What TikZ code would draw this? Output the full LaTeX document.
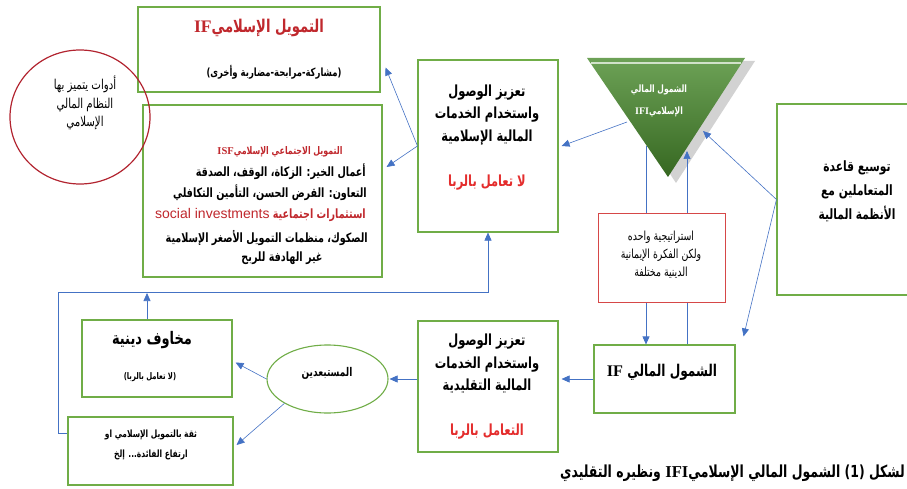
\documentclass[tikz,border=0pt]{standalone}
\usepackage{fontspec}
\setmainfont{Liberation Sans}
\newfontfamily\arabicfont[Script=Arabic, FakeStretch=0.75]{DejaVu Sans}
\newfontfamily\latinserif{Liberation Serif}
\TeXXeTstate=1
\usetikzlibrary{arrows.meta,shapes.geometric}

\definecolor{boxgreen}{RGB}{112,173,71}
\definecolor{linkblue}{RGB}{68,114,196}
\definecolor{darkred}{RGB}{192,40,45}
\definecolor{brightred}{RGB}{228,45,45}
\definecolor{boxred}{RGB}{214,72,72}
\definecolor{ringred}{RGB}{178,36,48}
\definecolor{trigreen}{RGB}{72,138,44}

\newcommand{\rtl}[1]{\beginR #1\endR}
\newcommand{\ltr}[1]{\beginL #1\endL{}}
\newcommand{\lat}[1]{{\latinserif\bfseries #1}}
\newcommand{\arsize}[2]{\fontsize{#1}{#2}\selectfont}

\tikzset{
  greenbox/.style={draw=boxgreen, line width=1.1pt, fill=white},
  arbold/.style={font=\arabicfont\bfseries\arsize{15.3}{22.5}, align=center, inner sep=0pt},
  arplain/.style={font=\arabicfont\arsize{13.6}{18.5}, align=center, inner sep=0pt},
  isfline/.style={arbold, font=\arabicfont\bfseries\arsize{12.8}{15}},
  link/.style={draw=linkblue, line width=0.6pt, -{Triangle[length=8pt,width=7pt]}},
}

\begin{document}
\begin{tikzpicture}[x=1pt,y=-1pt]
\useasboundingbox (0,0) rectangle (907,489);

% Islamic finance boxes
\node[greenbox, minimum width=242, minimum height=85] (ifbox) at (259,49.5) {};
\node[arbold, font=\arabicfont\bfseries\arsize{17.6}{20}, text=darkred] (iftitle) at (259,28) {\rtl{التمويل الإسلامي\ltr{\lat{IF}}}};
\node[arbold, font=\arabicfont\bfseries\arsize{11.3}{14}] (ifsub) at (274,72) {\rtl{(مشاركة-مرابحة-مضاربة وأخرى)}};

\node[greenbox, minimum width=239, minimum height=172] (isfbox) at (262.5,191) {};
\node[isfline, font=\arabicfont\bfseries\arsize{10.5}{15}, text=darkred] (isf-1) at (280,152) {\rtl{التمويل الاجتماعي الإسلامي\ltr{\lat{ISF}}}};
\node[isfline, anchor=east] (isf-2) at (366,172) {\rtl{أعمال الخير: الزكاة، الوقف، الصدقة}};
\node[isfline, anchor=east] (isf-3) at (367,193) {\rtl{التعاون: القرض الحسن، التأمين التكافلي}};
\node[isfline, anchor=east, text=darkred] (isf-4) at (366,215) {\rtl{استثمارات اجتماعية \ltr{\mdseries\rmfamily\arsize{14}{15}social investments}}};
\node[isfline, anchor=east] (isf-5) at (368,238) {\rtl{الصكوك، منظمات التمويل الأصغر الإسلامية}};
\node[isfline] (isf-6) at (282,258) {\rtl{غير الهادفة للربح}};

\node[greenbox, minimum width=140, minimum height=172] (cbox) at (488,146) {};
\node[arbold] (ctext) at (487,137.5) {%
  \rtl{تعزيز الوصول}\\
  \rtl{واستخدام الخدمات}\\
  \rtl{المالية الإسلامية}\\[22.5pt]
  \textcolor{brightred}{\rtl{لا تعامل بالربا}}};

% Triangle
\fill[black!25, opacity=.7] (596,61) -- (755,61) -- (676,183) -- cycle;
\shade[top color=trigreen!80!white, bottom color=trigreen!75!black] (587,58) -- (745,58) -- (668,177) -- cycle;
\draw[white!75!trigreen, line width=1.4pt] (591,63) -- (741,63);
\node[arbold, font=\arabicfont\bfseries\arsize{10.1}{22}, text=white] (tritext) at (659,101) {\rtl{الشمول المالي}\\\rtl{الإسلامي\ltr{\lat{IFI}}}};
\coordinate (tri-l) at (627,122);
\coordinate (tri-a) at (646,146);
\coordinate (tri-b) at (687,151);
\coordinate (tri-r) at (703,131);

% Customer base and conventional side
\node[greenbox, minimum width=160, minimum height=191] (basebox) at (857,199.5) {};
\node[arbold, font=\arabicfont\bfseries\arsize{14.2}{24}] (basetext) at (857,191) {%
  \rtl{توسيع قاعدة}\\
  \rtl{المتعاملين مع}\\
  \rtl{الأنظمة المالية}};

\node[greenbox, minimum width=141, minimum height=68] (ifmain) at (664.5,379) {};
\node[arbold, font=\arabicfont\bfseries\arsize{16.2}{18}] (ifmaintext) at (662,372) {\rtl{الشمول المالي \ltr{\lat{IF}}}};

\node[greenbox, minimum width=140, minimum height=131] (convbox) at (488,386.5) {};
\node[arbold] (convtext) at (487,387) {%
  \rtl{تعزيز الوصول}\\
  \rtl{واستخدام الخدمات}\\
  \rtl{المالية التقليدية}\\[22.5pt]
  \textcolor{brightred}{\rtl{التعامل بالربا}}};

% Excluded people
\node[draw=boxgreen, line width=1.1pt, fill=white, ellipse, minimum width=121, minimum height=68] (excl) at (327.5,379) {};
\node[arbold, font=\arabicfont\bfseries\arsize{12}{14}] (excltext) at (327,373) {\rtl{المستبعدين}};

\node[greenbox, minimum width=150, minimum height=77] (fearbox) at (157,358.5) {};
\node[arbold, font=\arabicfont\bfseries\arsize{17.3}{20}] (feartitle) at (152,340) {\rtl{مخاوف دينية}};
\node[arbold, font=\arabicfont\bfseries\arsize{9.1}{11}] (fearsub) at (150,377) {\rtl{(لا تعامل بالربا)}};

\node[greenbox, minimum width=165, minimum height=68] (trustbox) at (150.5,451) {};
\node[arbold, font=\arabicfont\bfseries\arsize{10}{20}] (trusttext) at (151,445) {%
  \rtl{ثقة بالتمويل الإسلامي او}\\
  \rtl{ارتفاع الفائدة... إلخ}};

% Connectors
\coordinate (loop-l) at (58,292);
\draw[link] (cbox.west) -- ([shift={(5,18)}]ifbox.east);
\draw[link] (cbox.west) -- ([shift={(4,-24)}]isfbox.east);
\draw[link] (tri-l) -- ([xshift=3pt]cbox.east);
\draw[link] (tri-a) -- (tri-a |- ifmain.north);
\draw[link] (ifmain.north -| tri-b) -- (tri-b);
\draw[link] (basebox.west) -- (tri-r);
\draw[link] (basebox.west) -- ([shift={(8,-8)}]ifmain.north east);
\draw[link, shorten >=3pt] (ifmain.west) -- (ifmain.west -| convbox.east);
\draw[link, shorten >=1pt] (convbox.west |- excl.east) -- (excl.east);
\draw[link] (excl.west) -- ([shift={(3,4)}]fearbox.east);
\draw[link] (excl.south west) -- ([shift={(3,-6)}]trustbox.east);
\draw[link, shorten >=1pt] ([xshift=-10pt]fearbox.north) -- ([xshift=-10pt]fearbox.north |- loop-l);
\draw[link] ([yshift=18pt]trustbox.west) -| (loop-l) -| (cbox.south);

% Strategy box over the two links
\node[draw=boxred, line width=1pt, fill=white, minimum width=127, minimum height=89] (ideabox) at (661.5,257.5) {};
\node[arplain, font=\arabicfont\arsize{12.5}{18}] (ideatext) at (661,255) {%
  \rtl{استراتيجية واحده}\\
  \rtl{ولكن الفكرة الإيمانية}\\
  \rtl{الدينية مختلفة}};

% Tools ring
\node[draw=ringred, line width=1.2pt, ellipse, minimum width=140, minimum height=134] (toolring) at (80,117) {};
\node[arplain] (ringtext) at (85,103) {%
  \rtl{أدوات يتميز بها}\\
  \rtl{النظام المالي}\\
  \rtl{الإسلامي}};

% Caption
\node[anchor=east, inner sep=0pt, font=\arabicfont\bfseries\arsize{16.6}{18}] (caption) at (905,473) {\rtl{لشكل (1) الشمول المالي الإسلامي\ltr{\lat{IFI}} ونظيره التقليدي}};

\end{tikzpicture}
\end{document}
